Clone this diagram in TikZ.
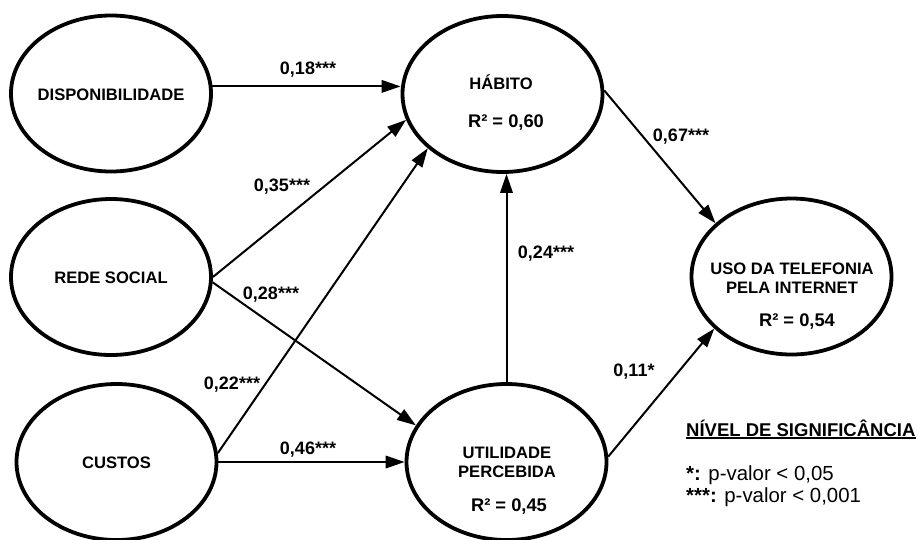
\documentclass[tikz,border=0pt]{standalone}
\usepackage{fontspec}
\setmainfont{Liberation Sans}
\usetikzlibrary{shapes.geometric,arrows.meta}
\begin{document}
\begin{tikzpicture}[x=1pt,y=-1pt,
  ell/.style={ellipse,draw,line width=3.8pt,minimum width=200pt,minimum height=156pt,inner sep=0pt},
  ntxt/.style={font=\bfseries\fontsize{16.6}{19}\selectfont,anchor=base,inner sep=0pt},
  rtxt/.style={font=\bfseries\fontsize{18.3}{20}\selectfont,anchor=base,inner sep=0pt},
  elbl/.style={font=\bfseries\fontsize{18}{20}\selectfont,anchor=base,inner sep=0pt},
  legtxt/.style={font=\fontsize{20.4}{22}\selectfont,anchor=base west,inner sep=0pt},
  leghead/.style={font=\bfseries\fontsize{18.5}{20}\selectfont,anchor=base west,inner sep=0pt},
  arr/.style={line width=2pt,-{Triangle[length=19pt,width=12.5pt]}},
  ]
\useasboundingbox (0,0) rectangle (918,539);

% ellipses
\node[ell] (disp) at (111,93.5) {};
\node[ell] (rede) at (111,277) {};
\node[ell] (cust) at (116.5,462) {};
\node[ell] (hab)  at (502.5,94) {};
\node[ell] (util) at (506.5,462) {};
\node[ell] (uso)  at (791.5,276.5) {};

% texts in ellipses
\node[ntxt] (dispt) at (111,100) {DISPONIBILIDADE};
\node[ntxt] (redet) at (111,283) {REDE SOCIAL};
\node[ntxt] (custt) at (116.5,468) {CUSTOS};
\node[ntxt] (habt) at (501,89) {HÁBITO};
\node[rtxt] (habr) at (506,127.5) {R² = 0,60};
\node[ntxt] (utilt1) at (507,458) {UTILIDADE};
\node[ntxt] (utilt2) at (507,477) {PERCEBIDA};
\node[rtxt] (utilr) at (509,511.5) {R² = 0,45};
\node[ntxt] (usot1) at (792,274) {USO DA TELEFONIA};
\node[ntxt] (usot2) at (792,293) {PELA INTERNET};
\node[rtxt] (usor) at (797,326.5) {R² = 0,54};

% connectors
\draw[arr] (disp.4) -- (disp.4 -| hab.west);
\draw[arr] (rede.0) -- (hab.195);
\draw[arr] (cust.5) -- (hab.216);
\draw[arr] (rede.-3) -- (util.158);
\draw[arr] (cust.east) -- (util.west);
\draw[arr] (util.north) -- (util.north |- hab.south);
\draw[arr] (hab.2) -- (uso.145);
\draw[arr] (util.3) -- (uso.214);

% edge labels
\node[elbl] (l1) at (308,74.5) {0,18***};
\node[elbl] (l2) at (282,191.5) {0,35***};
\node[elbl] (l3) at (271,299.5) {0,28***};
\node[elbl] (l4) at (232,389.5) {0,22***};
\node[elbl] (l5) at (308,454.5) {0,46***};
\node[elbl] (l6) at (546,258.5) {0,24***};
\node[elbl] (l7) at (681,141.5) {0,67***};
\node[elbl] (l8) at (634,376.5) {0,11*};

% legend
\node[leghead] (legh) at (686,436) {NÍVEL DE SIGNIFICÂNCIA};
\draw[line width=1.6pt] ([yshift=-2.2pt]legh.base west) -- ([yshift=-2.2pt]legh.base east);
\node[legtxt] (leg1) at (686,480) {\textbf{*:} p-valor < 0,05};
\node[legtxt] (leg2) at (686,502) {\textbf{***:} p-valor < 0,001};
\end{tikzpicture}
\end{document}
